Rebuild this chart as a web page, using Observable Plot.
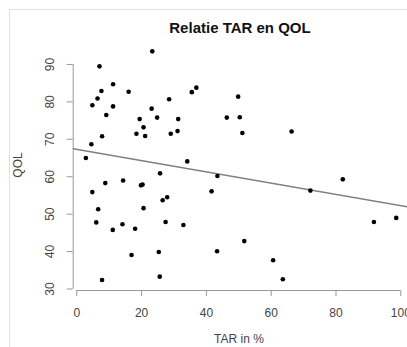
<!DOCTYPE html>
<html>
<head>
<meta charset="utf-8">
<script src="https://cdn.jsdelivr.net/npm/d3@7"></script>
<script src="https://cdn.jsdelivr.net/npm/@observablehq/plot@0.6"></script>
<style>
  body { margin: 0; background: #fff; }
  #wrap { position: relative; width: 407px; height: 347px; overflow: hidden; background: #fff;
          font-family: "Liberation Sans", Arial, sans-serif; }
  #wrap svg { position: absolute; left: 0; top: 0; }
  .edge-top { position: absolute; left: 9px; top: 9px; width: 398px; height: 1px; background: #e2e2e2; }
  .edge-left { position: absolute; left: 9px; top: 9px; width: 1px; height: 338px; background: #e2e2e2; }
  #title { position: absolute; left: 240px; top: 20px; transform: translateX(-50%);
           font-size: 15px; line-height: 15px; font-weight: bold; color: #111; white-space: nowrap; }
  #xlab { position: absolute; left: 239px; top: 333px; transform: translateX(-50%);
          font-size: 12px; line-height: 12px; color: #444; white-space: nowrap; }
  #ylab { position: absolute; left: 18px; top: 165px; transform: translate(-50%, -50%) rotate(-90deg);
          font-size: 12px; line-height: 12px; color: #444; white-space: nowrap; }
</style>
</head>
<body>
<div id="wrap">
  <div class="edge-top"></div>
  <div class="edge-left"></div>
  <div id="title">Relatie TAR en QOL</div>
  <div id="ylab">QOL</div>
  <div id="xlab">TAR in %</div>
</div>
<script>
// TAR in % (x) and QOL (y)
const tar = [23.3, 7.0, 11.2, 7.6, 16.0, 6.4, 28.5, 4.8, 11.2, 23.1,
             9.1, 24.8, 19.4, 31.3, 20.6, 18.4, 21.1, 29.0, 31.1, 7.8,
             4.5, 2.8, 36.9, 35.5, 49.8, 46.3, 50.3, 51.1, 66.3, 34.1,
             25.7, 8.8, 14.3, 4.8, 19.8, 20.3, 26.5, 27.9, 6.6, 20.6,
             6.0, 11.1, 14.1, 18.0, 27.4, 32.9, 16.9, 25.3, 7.8, 25.6,
             43.4, 41.6, 51.7, 43.3, 60.6, 63.6, 72.1, 82.1, 91.7, 98.6];
const qol = [93.5, 89.5, 84.7, 82.9, 82.7, 80.9, 80.7, 79.1, 78.8, 78.2,
             76.5, 75.8, 75.4, 75.4, 73.2, 71.5, 70.9, 71.5, 72.2, 70.8,
             68.7, 65.0, 83.8, 82.6, 81.4, 75.8, 75.9, 71.7, 72.1, 64.1,
             60.9, 58.3, 59.0, 55.9, 57.7, 57.9, 53.7, 54.5, 51.3, 51.6,
             47.8, 45.8, 47.3, 46.1, 47.9, 47.1, 39.1, 39.9, 32.4, 33.3,
             60.2, 56.1, 42.8, 40.1, 37.7, 32.6, 56.3, 59.3, 47.9, 49.0];

// fitted regression line (abline)
const regIntercept = 67.33;
const regSlope = -0.1508;

const xTicks = [0, 20, 40, 60, 80, 100];
const yTicks = [30, 40, 50, 60, 70, 80, 90];
const xDomain = [-1.11, 102.07];
const yDomain = [29.6, 95.87];

const points = tar.map((t, i) => ({tar: t, qol: qol[i]}));
const regLine = xDomain.map(x => ({tar: x, qol: regIntercept + regSlope * x}));

const chart = Plot.plot({
  width: 407,
  height: 347,
  marginLeft: 72.7,
  marginRight: 0,
  marginTop: 42,
  marginBottom: 57,
  style: {background: "transparent", fontFamily: "Liberation Sans, Arial, sans-serif", fontSize: "12px", overflow: "visible"},
  x: {domain: xDomain},
  y: {domain: yDomain},
  marks: [
    Plot.ruleX([xDomain[0]], {y1: yTicks[0], y2: yTicks[yTicks.length - 1], stroke: "#999"}),
    Plot.ruleY([yDomain[0]], {x1: xTicks[0], x2: xTicks[xTicks.length - 1], stroke: "#999"}),
    Plot.axisX({ticks: xTicks, tickSize: 6, tickPadding: 12, stroke: "#999", fill: "#444", label: null}),
    Plot.axisY({ticks: yTicks, tickSize: 6, tickPadding: 13, tickRotate: -90, stroke: "#999", fill: "#444", label: null}),
    Plot.line(regLine, {x: "tar", y: "qol", stroke: "#808080", strokeWidth: 1.5, clip: true}),
    Plot.dot(points, {x: "tar", y: "qol", r: 2.3, fill: "#000", stroke: "none"})
  ]
});
document.getElementById("wrap").appendChild(chart);
</script>
</body>
</html>
